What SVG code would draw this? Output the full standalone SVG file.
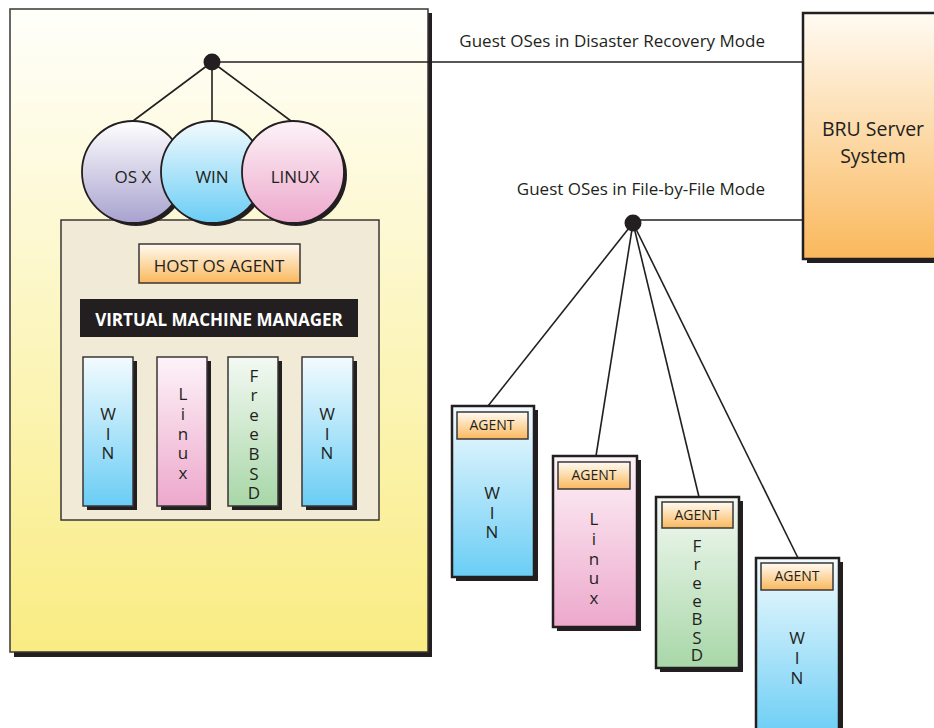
<svg xmlns="http://www.w3.org/2000/svg" width="934" height="728" viewBox="0 0 934 728">
<style>
.t{font-family:"Open Sans","Liberation Sans",sans-serif;fill:#231f20;}
.c{text-anchor:middle;}
.ln{stroke:#231f20;stroke-width:1.6;fill:none;}
.sh{fill:#231f20;}
.bx{stroke:#3a3637;stroke-width:1.5;}
.bx2{stroke:#231f20;stroke-width:2.5;}
</style>
<defs>
<linearGradient id="gY" x1="0" y1="0" x2="0" y2="1"><stop offset="0" stop-color="#fffffb"/><stop offset="1" stop-color="#f9ec83"/></linearGradient>
<linearGradient id="gO" x1="0" y1="0" x2="0" y2="1"><stop offset="0" stop-color="#fffbf3"/><stop offset="1" stop-color="#fab85c"/></linearGradient>
<linearGradient id="gB" x1="0" y1="0" x2="0" y2="1"><stop offset="0" stop-color="#f3fbfe"/><stop offset="1" stop-color="#6acdf5"/></linearGradient>
<linearGradient id="gP" x1="0" y1="0" x2="0" y2="1"><stop offset="0" stop-color="#fdf3f8"/><stop offset="1" stop-color="#eda8cc"/></linearGradient>
<linearGradient id="gG" x1="0" y1="0" x2="0" y2="1"><stop offset="0" stop-color="#f3f9f3"/><stop offset="1" stop-color="#a8d7a8"/></linearGradient>
<linearGradient id="gL" x1="0" y1="0" x2="0" y2="1"><stop offset="0" stop-color="#ffffff"/><stop offset="1" stop-color="#a8a2cf"/></linearGradient>
</defs>

<g id="host-system">
<rect class="sh" x="14" y="13" width="418" height="644"/>
<rect x="10" y="9" width="418" height="643" fill="url(#gY)" class="bx"/>
</g>

<g id="bru-server">
<rect class="sh" x="807" y="17" width="140" height="246"/>
<rect x="803" y="13" width="140" height="246" fill="url(#gO)" class="bx2"/>
<text class="t c" x="873" y="136" font-size="19.5">BRU Server</text>
<text class="t c" x="873" y="163" font-size="19.5">System</text>
</g>

<g id="connectors">
<line class="ln" x1="212" y1="62" x2="803" y2="62"/>
<line class="ln" x1="212" y1="62" x2="133" y2="121"/>
<line class="ln" x1="212" y1="62" x2="212" y2="121"/>
<line class="ln" x1="212" y1="62" x2="291" y2="121"/>
<line class="ln" x1="633" y1="220" x2="803" y2="220"/>
<line class="ln" x1="633" y1="223" x2="488" y2="406"/>
<line class="ln" x1="633" y1="223" x2="596" y2="456"/>
<line class="ln" x1="633" y1="223" x2="699" y2="497"/>
<line class="ln" x1="633" y1="223" x2="798" y2="558"/>
<line class="ln" x1="139" y1="283" x2="133" y2="299"/>
<line class="ln" x1="181" y1="283" x2="181" y2="299"/>
<line class="ln" x1="254" y1="283" x2="254" y2="299"/>
<line class="ln" x1="296" y1="283" x2="302" y2="299"/>
<line class="ln" x1="117" y1="337" x2="109" y2="357"/>
<line class="ln" x1="181" y1="337" x2="181" y2="357"/>
<line class="ln" x1="254" y1="337" x2="254" y2="357"/>
<line class="ln" x1="318" y1="337" x2="327" y2="357"/>
</g>

<g id="hub-dr"><circle cx="212" cy="62" r="8.5" fill="#231f20"/></g>
<g id="hub-fbf"><circle cx="633" cy="223" r="8.5" fill="#231f20"/></g>

<g id="label-dr"><text class="t" x="765" y="47" font-size="17" text-anchor="end">Guest OSes in Disaster Recovery Mode</text></g>
<g id="label-fbf"><text class="t" x="765" y="195" font-size="17" text-anchor="end">Guest OSes in File-by-File Mode</text></g>

<g id="hypervisor">
<rect x="61" y="220" width="318" height="300" fill="#f0ead6" class="bx"/>
</g>

<g id="guest-osx">
<circle class="sh" cx="136" cy="175" r="51"/>
<circle cx="133" cy="172" r="51" fill="url(#gL)" stroke="#231f20" stroke-width="1.8"/>
<text class="t c" x="133" y="183" font-size="17">OS X</text>
</g>
<g id="guest-win">
<circle class="sh" cx="215" cy="175" r="51"/>
<circle cx="212" cy="172" r="51" fill="url(#gB)" stroke="#231f20" stroke-width="1.8"/>
<text class="t c" x="212" y="183" font-size="17">WIN</text>
</g>
<g id="guest-linux">
<circle class="sh" cx="296" cy="175" r="51"/>
<circle cx="293" cy="172" r="51" fill="url(#gP)" stroke="#231f20" stroke-width="1.8"/>
<text class="t c" x="295" y="183" font-size="17">LINUX</text>
</g>

<g id="host-os-agent">
<rect x="139" y="244" width="161" height="39" fill="url(#gO)" class="bx"/>
<text class="t c" x="219" y="272" font-size="17">HOST OS AGENT</text>
</g>

<g id="vmm">
<rect x="80" y="299" width="278" height="38" fill="#231f20"/>
<text class="t c" x="219" y="326" font-size="17" font-weight="bold" style="fill:#ffffff">VIRTUAL MACHINE MANAGER</text>
</g>

<g id="vm-win-1">
<rect class="sh" x="87" y="361" width="50" height="149"/>
<rect x="83" y="357" width="50" height="149" fill="url(#gB)" class="bx"/>
<text class="t c" font-size="17"><tspan x="108" y="420">W</tspan><tspan x="108" y="440">I</tspan><tspan x="108" y="459">N</tspan></text>
</g>
<g id="vm-linux">
<rect class="sh" x="161" y="361" width="50" height="149"/>
<rect x="157" y="357" width="50" height="149" fill="url(#gP)" class="bx"/>
<text class="t c" font-size="17"><tspan x="183" y="400">L</tspan><tspan x="183" y="420">i</tspan><tspan x="183" y="440">n</tspan><tspan x="183" y="459">u</tspan><tspan x="183" y="479">x</tspan></text>
</g>
<g id="vm-freebsd">
<rect class="sh" x="232" y="361" width="50" height="149"/>
<rect x="228" y="357" width="50" height="149" fill="url(#gG)" class="bx"/>
<text class="t c" font-size="17"><tspan x="254" y="382">F</tspan><tspan x="254" y="401">r</tspan><tspan x="254" y="421">e</tspan><tspan x="254" y="440">e</tspan><tspan x="254" y="460">B</tspan><tspan x="254" y="480">S</tspan><tspan x="254" y="499">D</tspan></text>
</g>
<g id="vm-win-2">
<rect class="sh" x="306" y="361" width="51" height="149"/>
<rect x="302" y="357" width="51" height="149" fill="url(#gB)" class="bx"/>
<text class="t c" font-size="17"><tspan x="327" y="420">W</tspan><tspan x="327" y="440">I</tspan><tspan x="327" y="459">N</tspan></text>
</g>

<g id="fbf-win-1">
<rect class="sh" x="456" y="410" width="82" height="171"/>
<rect x="452" y="406" width="82" height="171" fill="url(#gB)" class="bx2"/>
<rect x="457" y="412" width="71" height="27" fill="url(#gO)" class="bx"/>
<text class="t c" x="492" y="430" font-size="14">AGENT</text>
<text class="t c" font-size="17"><tspan x="492" y="499">W</tspan><tspan x="492" y="519">I</tspan><tspan x="492" y="538">N</tspan></text>
</g>
<g id="fbf-linux">
<rect class="sh" x="557" y="460" width="84" height="171"/>
<rect x="553" y="456" width="84" height="171" fill="url(#gP)" class="bx2"/>
<rect x="558" y="462" width="72" height="27" fill="url(#gO)" class="bx"/>
<text class="t c" x="594" y="480" font-size="14">AGENT</text>
<text class="t c" font-size="17"><tspan x="594" y="525">L</tspan><tspan x="594" y="545">i</tspan><tspan x="594" y="565">n</tspan><tspan x="594" y="584">u</tspan><tspan x="594" y="604">x</tspan></text>
</g>
<g id="fbf-freebsd">
<rect class="sh" x="660" y="501" width="83" height="171"/>
<rect x="656" y="497" width="83" height="171" fill="url(#gG)" class="bx2"/>
<rect x="662" y="502" width="71" height="26" fill="url(#gO)" class="bx"/>
<text class="t c" x="697" y="520" font-size="14">AGENT</text>
<text class="t c" font-size="17"><tspan x="697" y="552">F</tspan><tspan x="697" y="570">r</tspan><tspan x="697" y="589">e</tspan><tspan x="697" y="607">e</tspan><tspan x="697" y="625">B</tspan><tspan x="697" y="644">S</tspan><tspan x="697" y="661">D</tspan></text>
</g>
<g id="fbf-win-2">
<rect class="sh" x="760" y="562" width="83" height="180"/>
<rect x="756" y="558" width="83" height="180" fill="url(#gB)" class="bx2"/>
<rect x="761" y="563" width="72" height="27" fill="url(#gO)" class="bx"/>
<text class="t c" x="797" y="581" font-size="14">AGENT</text>
<text class="t c" font-size="17"><tspan x="797" y="644">W</tspan><tspan x="797" y="664">I</tspan><tspan x="797" y="684">N</tspan></text>
</g>
</svg>
